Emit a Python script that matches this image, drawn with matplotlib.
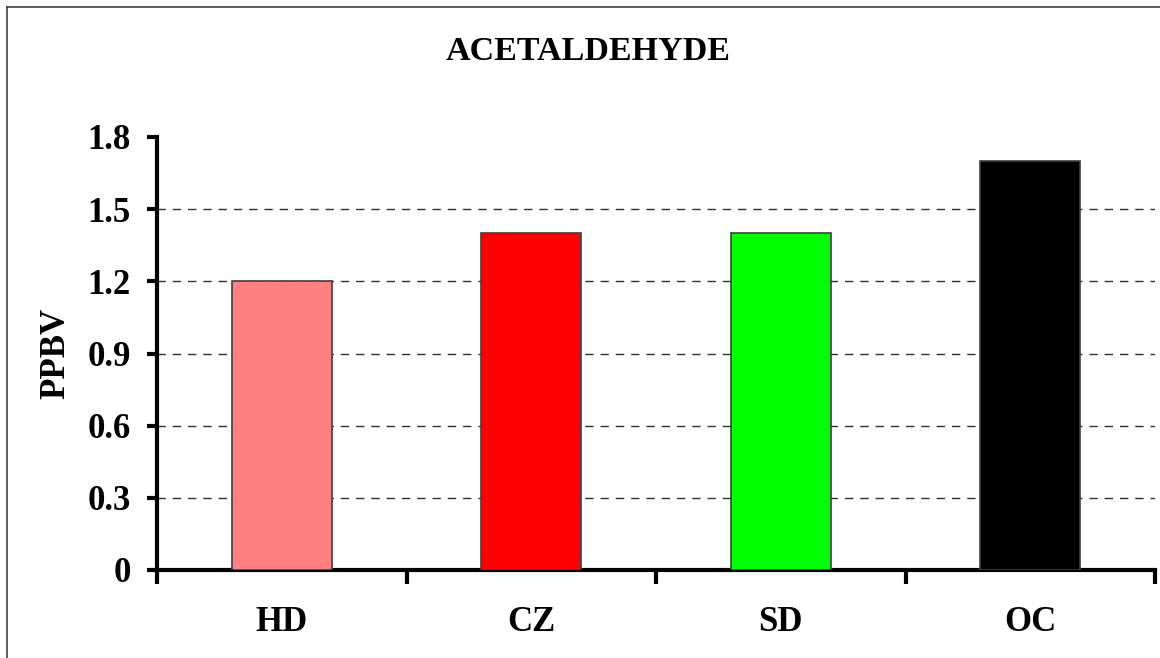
import matplotlib
matplotlib.use("Agg")
import matplotlib.pyplot as plt
from matplotlib.lines import Line2D

categories = ["HD", "CZ", "SD", "OC"]
values = [1.2, 1.4, 1.4, 1.7]
colors = ["#FF8080", "#FF0000", "#00FF00", "#000000"]
yticks = [0, 0.3, 0.6, 0.9, 1.2, 1.5, 1.8]
ytick_labels = ["0", "0.3", "0.6", "0.9", "1.2", "1.5", "1.8"]
title = "ACETALDEHYDE"
ylabel = "PPBV"

plt.rcParams['font.family'] = ['Liberation Serif', 'DejaVu Serif']
plt.rcParams['font.weight'] = 'bold'

W, H = 1160, 658
fig = plt.figure(figsize=(W / 100, H / 100), dpi=100)
ax = fig.add_axes([157 / W, 1 - 570 / H, (1155 - 157) / W, (570 - 137) / H])

x = list(range(len(categories)))
ax.bar(x, values, width=0.4, color=colors, edgecolor="#404040", linewidth=1.2, zorder=3)

ax.set_xlim(-0.5, len(categories) - 0.5)
ax.set_ylim(0, 1.8)
ax.set_yticks(yticks)
ax.set_yticklabels(ytick_labels, fontsize=25, fontweight='bold')
ax.set_xticks(x)
ax.set_xticklabels(categories, fontsize=25, fontweight='bold')
ax.tick_params(axis='x', length=0, pad=26)
ax.tick_params(axis='y', length=7, width=3, pad=12)
# category boundary ticks
ax.set_xticks([i - 0.5 for i in range(len(categories) + 1)], minor=True)
ax.tick_params(axis='x', which='minor', length=10, width=3, direction='out')

for yv in yticks[1:-1]:
    ax.axhline(yv, color="#303030", linestyle=(0, (6, 5)), linewidth=1.0, zorder=1)

for s in ['top', 'right']:
    ax.spines[s].set_visible(False)
ax.spines['left'].set_linewidth(3)
ax.spines['bottom'].set_linewidth(3)

ax.set_ylabel(ylabel, fontsize=25, fontweight='bold', labelpad=11)
fig.text(588 / W, 1 - 52 / H, title, fontsize=24.5, fontweight='bold',
         ha='center', va='center')

# figure frame (top and left edges)
fig.add_artist(Line2D([7 / W, 1], [1 - 7 / H, 1 - 7 / H], transform=fig.transFigure,
                      color="#404040", linewidth=1.2))
fig.add_artist(Line2D([7 / W, 7 / W], [0, 1 - 7 / H], transform=fig.transFigure,
                      color="#404040", linewidth=1.2))

fig.savefig("out.png", dpi=100)
